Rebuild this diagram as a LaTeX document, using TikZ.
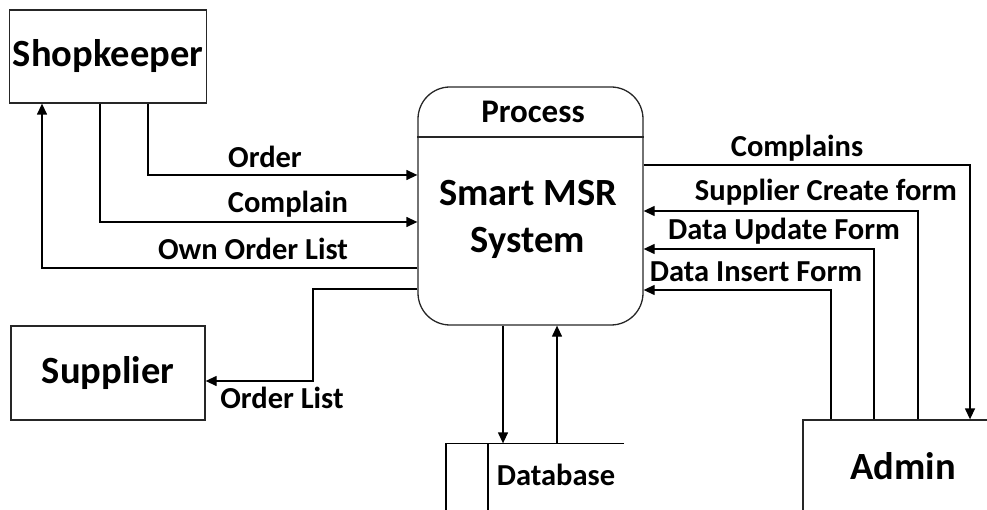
\documentclass[tikz,border=0pt]{standalone}
\usepackage{fontspec}
\setmainfont{Carlito}
\usetikzlibrary{arrows.meta}

\begin{document}
\begin{tikzpicture}[x=1pt,y=-1pt,>={Triangle[length=11pt,width=10pt]},line width=1.3pt,
  ent/.style={draw=black!85,font=\fontsize{38.5}{44}\bfseries\selectfont},
  procbox/.style={draw=black!85,rounded corners=32pt,minimum width=225pt,minimum height=238pt},
  lbl/.style={font=\fontsize{30.5}{32}\bfseries\selectfont,anchor=base,inner sep=0pt}]
\clip (0,0) rectangle (987,510);
% entities
\node[ent,minimum width=194pt,minimum height=93pt] (shop) at (108,56.5) {Shopkeeper};
\node[ent,minimum width=194pt,minimum height=94pt] (sup) at (108,373) {Supplier};
\node[ent,minimum width=200pt,minimum height=92pt] (admin) at (903,466) {Admin};
% process
\node[procbox] (proc) at (530.5,206) {};
\draw[black!85] (proc.west |- 0,137) -- (proc.east |- 0,137);
\node[font=\fontsize{33}{35}\bfseries\selectfont] (ptitle) at (533,112) {Process};
\node[font=\fontsize{38.5}{47}\bfseries\selectfont,align=center] (pname) at (528,219) {Smart MSR\\System};
% data store
\node[font=\fontsize{30.5}{32}\bfseries\selectfont,minimum width=135pt,minimum height=62pt] (db) at (556,475) {Database};
\draw (db.north east) -- ([xshift=-42pt]db.north west) -- ++(0,80);
\draw (db.north west) -- ++(0,80);
% shopkeeper flows
\draw[->] (shop.south -| 148,0) |- (proc.west |- 0,175);
\draw[->] (shop.south -| 100,0) |- (proc.west |- 0,222);
\draw[->] (proc.west |- 0,268) -| (shop.south -| 42,0);
\node[lbl] (lorder) at (265,168) {Order};
\node[lbl] (lcompl) at (288,213) {Complain};
\node[lbl] (lown) at (253,260) {Own Order List};
% supplier flow
\draw[->] (proc.west |- 0,289) -| (313,381) -- (sup.east |- 0,381);
\node[lbl] (lordlist) at (282,408) {Order List};
% database flows
\draw[->] (proc.south -| 503,0) -- (db.north -| 503,0);
\draw[->] (db.north -| 557,0) -- (proc.south -| 557,0);
% admin flows
\draw[->] (proc.east |- 0,165) -| (admin.north -| 970,0);
\draw[->] (admin.north -| 918,0) |- (proc.east |- 0,211);
\draw[->] (admin.north -| 874,0) |- (proc.east |- 0,249);
\draw[->] (admin.north -| 831,0) |- (proc.east |- 0,290);
\node[lbl] (lcompls) at (797,157) {Complains};
\node[lbl] (lsupcr) at (826,201) {Supplier Create form};
\node[lbl] (lupd) at (784,240) {Data Update Form};
\node[lbl] (lins) at (756,282) {Data Insert Form};
\end{tikzpicture}
\end{document}
